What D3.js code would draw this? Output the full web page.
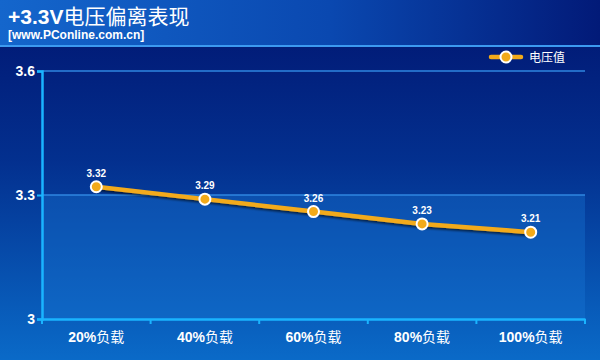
<!DOCTYPE html>
<html><head><meta charset="utf-8">
<script src="https://cdn.jsdelivr.net/npm/d3@7"></script>
<style>html,body{margin:0;padding:0;background:#021a6e;}svg{display:block;}</style>
</head><body>
<svg id="c" width="600" height="360"></svg>
<script>
const categories = ["20%", "40%", "60%", "80%", "100%"];
const categorySuffix = "负载";
const values = [3.32, 3.29, 3.26, 3.23, 3.21];
const yTicks = [3, 3.3, 3.6];
const yTickLabels = ["3", "3.3", "3.6"];
const seriesName = "电压值";
const titleBold = "+3.3V";
const titleRest = "电压偏离表现";
const subtitle = "[www.PConline.com.cn]";

const W = 600, H = 360;
const m = {left: 42, right: 15, top: 71, bottom: 41};
const svg = d3.select("#c");
const defs = svg.append("defs");
const font = "Arial, 'Liberation Sans', 'Noto Sans CJK SC', sans-serif";

const bg = defs.append("linearGradient").attr("id","bg").attr("x1",0).attr("y1",0).attr("x2",0).attr("y2",1);
bg.append("stop").attr("offset","0%").attr("stop-color","#011570");
bg.append("stop").attr("offset","45%").attr("stop-color","#03308f");
bg.append("stop").attr("offset","100%").attr("stop-color","#0a6ac8");
const hd = defs.append("linearGradient").attr("id","hd").attr("x1",0).attr("y1",0).attr("x2",1).attr("y2",0);
hd.append("stop").attr("offset","0%").attr("stop-color","#1466cc");
hd.append("stop").attr("offset","55%").attr("stop-color","#0a48b0");
hd.append("stop").attr("offset","100%").attr("stop-color","#021a78");
const sh = defs.append("filter").attr("id","sh").attr("x","-10%").attr("y","-50%").attr("width","120%").attr("height","200%");
sh.append("feDropShadow").attr("dx",1).attr("dy",2).attr("stdDeviation",1).attr("flood-color","#000").attr("flood-opacity",0.6);

svg.append("rect").attr("width",W).attr("height",H).attr("fill","url(#bg)");
svg.append("rect").attr("width",W).attr("height",45).attr("fill","url(#hd)");
svg.append("rect").attr("y",45).attr("width",W).attr("height",2).attr("fill","#3c9af0");

const tt = svg.append("text").attr("x",8).attr("y",24).attr("fill","#fff").attr("font-family",font).attr("font-size",21);
tt.append("tspan").attr("font-weight","bold").text(titleBold);
tt.append("tspan").text(titleRest);
svg.append("text").attr("x",8).attr("y",39).attr("fill","#fff").attr("font-family",font)
  .attr("font-size",12).attr("font-weight","bold").text(subtitle);

const x = d3.scaleBand().domain(categories).range([m.left, W - m.right]);
const y = d3.scaleLinear().domain([3, 3.6]).range([H - m.bottom, m.top]);

// alternating band below 3.3
svg.append("rect").attr("x",m.left).attr("y",y(3.3)).attr("width",W-m.right-m.left)
  .attr("height",y(3)-y(3.3)).attr("fill","#1a78d8").attr("opacity",0.35);

// gridlines
svg.append("g").selectAll("line").data(yTicks.filter(d=>d>3)).join("line")
  .attr("x1",m.left).attr("x2",W-m.right).attr("y1",d=>y(d)).attr("y2",d=>y(d))
  .attr("stroke","#2f86e0").attr("stroke-width",1.5);

// y axis
const yAxis = svg.append("g").attr("transform",`translate(${m.left},0)`)
  .call(d3.axisLeft(y).tickValues(yTicks).tickSize(5).tickFormat((d,i)=>yTickLabels[i]));
yAxis.select(".domain").attr("stroke","#1ab4ff").attr("stroke-width",2.5);
yAxis.selectAll(".tick line").attr("stroke","#1ab4ff").attr("stroke-width",2);
yAxis.selectAll("text").attr("fill","#fff").attr("font-family",font).attr("font-size",14)
  .attr("font-weight","bold").attr("x",-7);

// x axis
const xAxis = svg.append("g").attr("transform",`translate(0,${y(3)})`)
  .call(d3.axisBottom(x).tickSize(0).tickFormat(""));
xAxis.select(".domain").attr("stroke","#1ab4ff").attr("stroke-width",2.5);
const bounds = categories.map(c=>x(c)).concat([x(categories[categories.length-1])+x.bandwidth()]);
xAxis.append("g").selectAll("line").data(bounds).join("line")
  .attr("x1",d=>d).attr("x2",d=>d).attr("y1",0).attr("y2",5)
  .attr("stroke","#1ab4ff").attr("stroke-width",2);
const xl = xAxis.append("g").selectAll("text").data(categories).join("text")
  .attr("x",d=>x(d)+x.bandwidth()/2).attr("y",23).attr("text-anchor","middle")
  .attr("fill","#fff").attr("font-family",font).attr("font-size",14);
xl.append("tspan").attr("font-weight","bold").text(d=>d);
xl.append("tspan").attr("font-size",14).text(categorySuffix);

// line
const cx = d=>x(d)+x.bandwidth()/2;
const line = d3.line().x((d,i)=>cx(categories[i])).y(d=>y(d));
svg.append("path").datum(values).attr("d",line).attr("fill","none")
  .attr("stroke","#f2aa1a").attr("stroke-width",4.5).attr("filter","url(#sh)");
svg.append("g").selectAll("circle").data(values).join("circle")
  .attr("cx",(d,i)=>cx(categories[i])).attr("cy",d=>y(d)).attr("r",5.5)
  .attr("fill","#f2aa1a").attr("stroke","#fff").attr("stroke-width",2);
svg.append("g").selectAll("text").data(values).join("text")
  .attr("x",(d,i)=>cx(categories[i])).attr("y",d=>y(d)-10).attr("text-anchor","middle")
  .attr("fill","#fff").attr("font-family",font).attr("font-size",10).attr("font-weight","bold")
  .text(d=>d3.format(".2f")(d));

// legend
const lg = svg.append("g").attr("transform","translate(491,57)");
lg.append("line").attr("x1",0).attr("x2",30).attr("stroke","#f2aa1a").attr("stroke-width",4.5).attr("stroke-linecap","round");
lg.append("circle").attr("cx",15).attr("r",5.5).attr("fill","#f2aa1a").attr("stroke","#fff").attr("stroke-width",2);
lg.append("text").attr("x",38).attr("y",5).attr("fill","#fff").attr("font-family",font).attr("font-size",12).text(seriesName);
</script>
</body></html>
